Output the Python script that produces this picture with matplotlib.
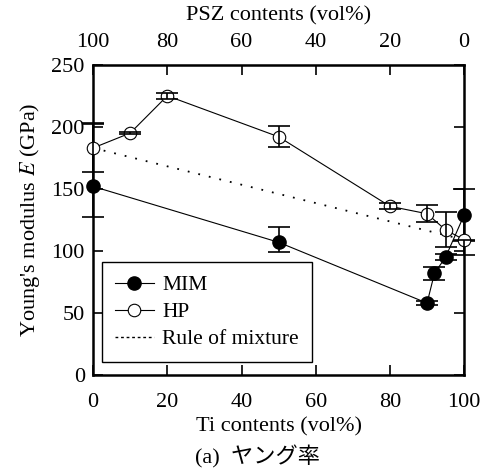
import numpy as np
import matplotlib.pyplot as plt
from matplotlib.lines import Line2D

plt.rcParams['font.family'] = ['Liberation Serif', 'Noto Sans CJK JP']
plt.rcParams['mathtext.fontset'] = 'stix'

# MIM samples
mim_ti = [0, 50, 90, 92, 95, 100]
mim_E = [152, 107, 58, 82, 95, 129]
mim_err_lo = [25, 8, 1.5, 5, 2.5, 21]
mim_err_hi = [51, 12, 1.5, 5, 2.5, 21]

# HP samples
hp_ti = [0, 10, 20, 50, 80, 90, 95, 100]
hp_E = [183, 195, 225, 192, 136, 130, 117, 109]
hp_err_lo = [19, 1, 2.5, 8.5, 2.5, 7, 14, 12]
hp_err_hi = [19, 1, 2.5, 8.5, 2.5, 7, 14, 0]

# rule of mixture between the two HP end members
rom_ti = [0, 100]
rom_E = [183, 109]

FS = 16

fig = plt.figure(figsize=(4.85, 4.73), dpi=100)
ax = fig.add_axes([0.192, 0.207, 0.765, 0.656])

ax.plot(rom_ti, rom_E, color='black', lw=1.3, ls=(0, (1, 5)), zorder=2)

ax.plot(mim_ti, mim_E, color='black', lw=0.8, marker='o', ms=9.5,
        mfc='black', mec='black', clip_on=False, zorder=3)
ax.errorbar(mim_ti, mim_E, yerr=[mim_err_lo, mim_err_hi], fmt='none',
            ecolor='black', elinewidth=1.2, capsize=8, capthick=1.2,
            clip_on=False, zorder=4)

ax.plot(hp_ti, hp_E, color='black', lw=0.8, marker='o', ms=9,
        mfc='white', mec='black', mew=0.8, clip_on=False, zorder=5)
eb = ax.errorbar(hp_ti, hp_E, yerr=[hp_err_lo, hp_err_hi], fmt='none',
                 ecolor='black', elinewidth=1.2, capsize=8, capthick=1.2,
                 zorder=6)
for art in eb.lines[1] + eb.lines[2]:
    art.set_clip_on(False)

ax.set_xlim(0, 100)
ax.set_ylim(0, 250)
ax.set_xticks(np.arange(0, 101, 20))
ax.set_yticks(np.arange(0, 251, 50))
ax.tick_params(direction='in', length=7, width=1.2, labelsize=FS, right=True)
ax.tick_params(axis='x', pad=13)
ax.tick_params(axis='y', pad=6)
for s in ax.spines.values():
    s.set_linewidth(1.8)

ax.set_xlabel('Ti contents (vol%)', fontsize=FS, labelpad=4)
ax.set_ylabel(r"Young's modulus $E$ (GPa)", fontsize=FS, labelpad=7)

top = ax.secondary_xaxis('top', functions=(lambda x: 100 - x, lambda x: 100 - x))
top.set_xticks(np.arange(0, 101, 20))
top.tick_params(direction='in', length=7, width=1.2, labelsize=FS, pad=9)
top.set_xlabel('PSZ contents (vol%)', fontsize=FS, labelpad=9)

handles = [
    Line2D([], [], color='black', lw=0.8, marker='o', ms=9.5, mfc='black'),
    Line2D([], [], color='black', lw=0.8, marker='o', ms=9, mfc='white', mew=0.8),
    Line2D([], [], color='black', lw=1.0, ls=(0, (2, 2))),
]
leg = ax.legend(handles, ['MIM', 'HP', 'Rule of mixture'], loc='lower left',
                bbox_to_anchor=(0.024, 0.042), fontsize=15.5, fancybox=False,
                edgecolor='black', framealpha=1, handlelength=1.8,
                handletextpad=0.4, borderpad=0.6, labelspacing=0.32,
                borderaxespad=0)
leg.get_frame().set_linewidth(1.0)

fig.text(0.53, 0.02, '(a)  ヤング率', ha='center', fontsize=FS)

fig.savefig('out.png', dpi=100)
